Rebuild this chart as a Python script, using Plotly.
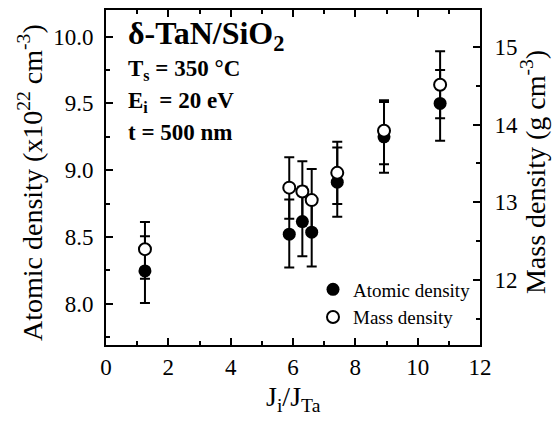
import plotly.graph_objects as go

# ---- data ----
ratio = [1.25, 5.88, 6.30, 6.60, 7.42, 8.92, 10.72]           # J_i / J_Ta
atomic = [8.245, 8.52, 8.615, 8.535, 8.91, 9.25, 9.50]        # x10^22 cm^-3
atomic_plus = [0.26, 0.26, 0.26, 0.26, 0.26, 0.26, 0.25]
atomic_minus = [0.24, 0.25, 0.26, 0.256, 0.26, 0.27, 0.28]
mass = [12.40, 13.19, 13.14, 13.03, 13.38, 13.92, 14.51]      # g cm^-3
mass_plus = [0.35, 0.39, 0.39, 0.40, 0.40, 0.39, 0.43]
mass_minus = [0.38, 0.40, 0.39, 0.40, 0.40, 0.43, 0.43]

FONT = "Times New Roman, Liberation Serif, serif"
W, H = 556, 422
L, R, T, B = 106, 76, 8, 77
pw, ph = W - L - R, H - T - B

def px_x(p):
    return (p - L) / pw

def px_y(p):
    return (H - B - p) / ph

fig = go.Figure()
fig.add_trace(go.Scatter(
    x=ratio, y=atomic, mode="markers", name="Atomic density",
    marker=dict(symbol="circle", size=13, color="black", line=dict(width=0)),
    error_y=dict(type="data", symmetric=False, array=atomic_plus, arrayminus=atomic_minus,
                 color="black", thickness=2, width=5),
    yaxis="y",
))
fig.add_trace(go.Scatter(
    x=ratio, y=mass, mode="markers", name="Mass density",
    marker=dict(symbol="circle", size=12, color="white", line=dict(width=2, color="black")),
    error_y=dict(type="data", symmetric=False, array=mass_plus, arrayminus=mass_minus,
                 color="black", thickness=2, width=5),
    yaxis="y2",
))

axis_common = dict(showgrid=False, zeroline=False, showline=True, linecolor="black", linewidth=2,
                   ticks="inside", ticklen=7, tickwidth=2, tickcolor="black",
                   tickfont=dict(family=FONT, size=23, color="black"))

fig.update_layout(
    width=W, height=H,
    margin=dict(l=L, r=R, t=T, b=B),
    paper_bgcolor="white", plot_bgcolor="white",
    font=dict(family=FONT, color="black"),
    showlegend=True,
    legend=dict(x=px_x(313), y=px_y(270), xanchor="left", yanchor="top",
                bgcolor="rgba(0,0,0,0)", borderwidth=0,
                font=dict(family=FONT, size=19, color="black"),
                itemwidth=30, tracegroupgap=0),
    xaxis=dict(range=[0, 12], dtick=2, tick0=0, mirror="ticks",
               minor=dict(dtick=1, ticks="inside", ticklen=4, tickwidth=2, tickcolor="black"),
               **axis_common),
    yaxis=dict(range=[7.69, 10.2], dtick=0.5, tick0=8, tickformat=".1f",
               minor=dict(dtick=0.25, ticks="inside", ticklen=4, tickwidth=2, tickcolor="black"),
               ticklabelstandoff=6,
               **axis_common),
    yaxis2=dict(range=[11.17, 15.47], dtick=1, tick0=12, overlaying="y", side="right",
                minor=dict(dtick=0.5, ticks="inside", ticklen=4, tickwidth=2, tickcolor="black"),
                ticklabelstandoff=8,
                **axis_common),
)

ann = [
    dict(text="Atomic density (x10<sup>22</sup> cm<sup>-3</sup>)", x=px_x(31), y=px_y(182),
         textangle=-90, font=dict(family=FONT, size=28, color="black")),
    dict(text="Mass density (g cm<sup>-3</sup>)", x=px_x(533), y=px_y(171),
         textangle=-90, font=dict(family=FONT, size=28, color="black")),
    dict(text="J<sub>i</sub>/J<sub>Ta</sub>", x=px_x(293), y=px_y(399),
         font=dict(family=FONT, size=28, color="black")),
    dict(text="<b>δ-TaN/SiO<sub>2</sub></b>", x=px_x(126), y=px_y(34), xanchor="left",
         font=dict(family=FONT, size=32, color="black")),
    dict(text="<b>T<sub>s</sub> = 350 °C</b>", x=px_x(126), y=px_y(68), xanchor="left",
         font=dict(family=FONT, size=23, color="black")),
    dict(text="<b>E<sub>i</sub>  = 20 eV</b>", x=px_x(126), y=px_y(101), xanchor="left",
         font=dict(family=FONT, size=23, color="black")),
    dict(text="<b>t = 500 nm</b>", x=px_x(126), y=px_y(131), xanchor="left",
         font=dict(family=FONT, size=23, color="black")),
]
for a in ann:
    a.setdefault("xanchor", "center")
    a.setdefault("yanchor", "middle")
    fig.add_annotation(xref="paper", yref="paper", showarrow=False, **a)

fig.write_html("out.html")
